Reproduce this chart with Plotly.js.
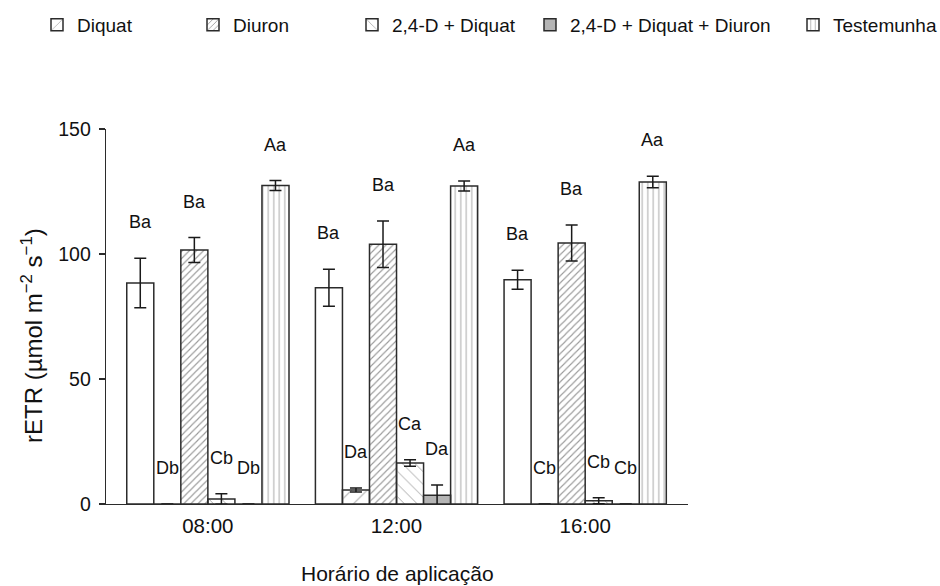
<!DOCTYPE html>
<html>
<head>
<meta charset="utf-8">
<script src="https://cdn.plot.ly/plotly-3.0.1.min.js"></script>
<style>html,body{margin:0;padding:0;background:#fff;}#chart{width:940px;height:586px;}</style>
</head>
<body>
<div id="chart"></div>
<script>
// ---- data ----
var categories = ['08:00', '12:00', '16:00'];

var seriesNames = ['', 'Diquat', 'Diuron', '2,4-D + Diquat', '2,4-D + Diquat + Diuron', 'Testemunha'];

var plainValues      = [88.4, 86.5, 89.7];
var plainErrors      = [9.9, 7.4, 3.8];
var diquatValues     = [0, 5.6, 0];
var diquatErrors     = [0, 0.8, 0];
var diuronValues     = [101.6, 103.9, 104.4];
var diuronErrors     = [5.0, 9.3, 7.2];
var d24DiquatValues  = [2.0, 16.4, 1.3];
var d24DiquatErrors  = [2.1, 1.3, 1.2];
var d24TripleValues  = [0, 3.5, 0];
var d24TripleErrors  = [0, 4.1, 0];
var controlValues    = [127.4, 127.2, 128.8];
var controlErrors    = [2.0, 2.0, 2.3];

var plainLetters     = ['Ba', 'Ba', 'Ba'];
var diquatLetters    = ['Db', 'Da', 'Cb'];
var diuronLetters    = ['Ba', 'Ba', 'Ba'];
var d24DiquatLetters = ['Cb', 'Ca', 'Cb'];
var d24TripleLetters = ['Db', 'Da', 'Cb'];
var controlLetters   = ['Aa', 'Aa', 'Aa'];

var yTickValues = [0, 50, 100, 150];

// ---- styling ----
var FONT = 'Liberation Sans, Arial, sans-serif';
var INK = '#111';
var OUTLINE = '#2b2b2b';
var BARGAP = 0.14;

var values = [plainValues, diquatValues, diuronValues, d24DiquatValues, d24TripleValues, controlValues];
var errors = [plainErrors, diquatErrors, diuronErrors, d24DiquatErrors, d24TripleErrors, controlErrors];
var letters = [plainLetters, diquatLetters, diuronLetters, d24DiquatLetters, d24TripleLetters, controlLetters];

var markers = [
  {color: '#ffffff'},
  {color: '#ffffff', pattern: {shape: '/', size: 11, solidity: 0.09, fgcolor: '#a8a8a8', fillmode: 'replace'}},
  {color: '#ffffff', pattern: {shape: '/', size: 5, solidity: 0.22, fgcolor: '#9a9a9a', fillmode: 'replace'}},
  {color: '#ffffff', pattern: {shape: '\\', size: 9, solidity: 0.1, fgcolor: '#a0a0a0', fillmode: 'replace'}},
  {color: '#b5b5b5'},
  {color: '#ffffff', pattern: {shape: '|', size: 5.5, solidity: 0.2, fgcolor: '#b0b0b0', fillmode: 'replace'}}
];

// legend text starts (px) -> legend positions
var plotL = 106, plotW = 582, plotB = 504, plotH = 375;
var legendTextStarts = [null, 77, 233, 392, 570, 833];

var traces = [];
var layoutLegends = {};
for (var j = 0; j < 6; j++) {
  var m = markers[j];
  m.line = {color: OUTLINE, width: 1.5};
  var tr = {
    type: 'bar',
    name: seriesNames[j],
    x: categories,
    y: values[j],
    marker: m,
    error_y: {type: 'data', array: errors[j], visible: true, color: '#1a1a1a', thickness: 1.5, width: 6},
    hoverinfo: 'skip'
  };
  if (j === 0) {
    tr.showlegend = false;
  } else {
    var key = j === 1 ? 'legend' : 'legend' + j;
    tr.legend = key;
    layoutLegends[key] = {
      x: (legendTextStarts[j] - 40 - plotL) / plotW,
      xanchor: 'left',
      y: (plotB - 25) / plotH,
      yanchor: 'middle',
      bgcolor: 'rgba(0,0,0,0)',
      font: {family: FONT, size: 19, color: INK},
      itemwidth: 30
    };
  }
  traces.push(tr);
}

// letter annotations above error bars
var annotations = [];
var w = (1 - BARGAP) / 6;
for (var jj = 0; jj < 6; jj++) {
  for (var i = 0; i < categories.length; i++) {
    annotations.push({
      x: i + (jj - 2.5) * w,
      y: values[jj][i] + errors[jj][i],
      xref: 'x', yref: 'y',
      text: letters[jj][i],
      showarrow: false,
      xanchor: 'center', yanchor: 'middle',
      yshift: 36,
      font: {family: FONT, size: 18, color: INK}
    });
  }
}
// axis titles
annotations.push({
  xref: 'paper', yref: 'paper',
  x: (32 - plotL) / plotW, y: (plotB - 336) / plotH,
  text: 'rETR (µmol m<sup>−2</sup> s<sup>−1</sup>)',
  textangle: -90, showarrow: false,
  xanchor: 'center', yanchor: 'middle',
  font: {family: FONT, size: 24, color: INK}
});
annotations.push({
  xref: 'paper', yref: 'paper',
  x: 0.5, y: (plotB - 573) / plotH,
  text: 'Horário de aplicação',
  showarrow: false,
  xanchor: 'center', yanchor: 'middle',
  font: {family: FONT, size: 21, color: INK}
});

var layout = {
  width: 940, height: 586,
  margin: {l: plotL, r: 940 - plotL - plotW, t: plotB - plotH, b: 586 - plotB, pad: 0, autoexpand: false},
  paper_bgcolor: '#ffffff',
  plot_bgcolor: '#ffffff',
  barmode: 'group',
  bargap: BARGAP,
  bargroupgap: 0,
  showlegend: true,
  font: {family: FONT, color: INK},
  xaxis: {
    type: 'category',
    range: [-0.54, 2.545],
    showline: true, linecolor: OUTLINE, linewidth: 1.3,
    ticks: '', showgrid: false, zeroline: false,
    tickfont: {family: FONT, size: 20.5, color: INK},
    ticklabelstandoff: 3
  },
  yaxis: {
    range: [0, 150],
    tickvals: yTickValues,
    ticktext: yTickValues.map(String),
    showline: true, linecolor: OUTLINE, linewidth: 1.3,
    ticks: 'outside', ticklen: 6, tickwidth: 1.3, tickcolor: OUTLINE,
    showgrid: false, zeroline: false,
    tickfont: {family: FONT, size: 19.5, color: INK},
    ticklabelstandoff: 4
  },
  annotations: annotations
};
for (var k in layoutLegends) layout[k] = layoutLegends[k];

Plotly.newPlot('chart', traces, layout, {displayModeBar: false, staticPlot: true});
</script>
</body>
</html>
